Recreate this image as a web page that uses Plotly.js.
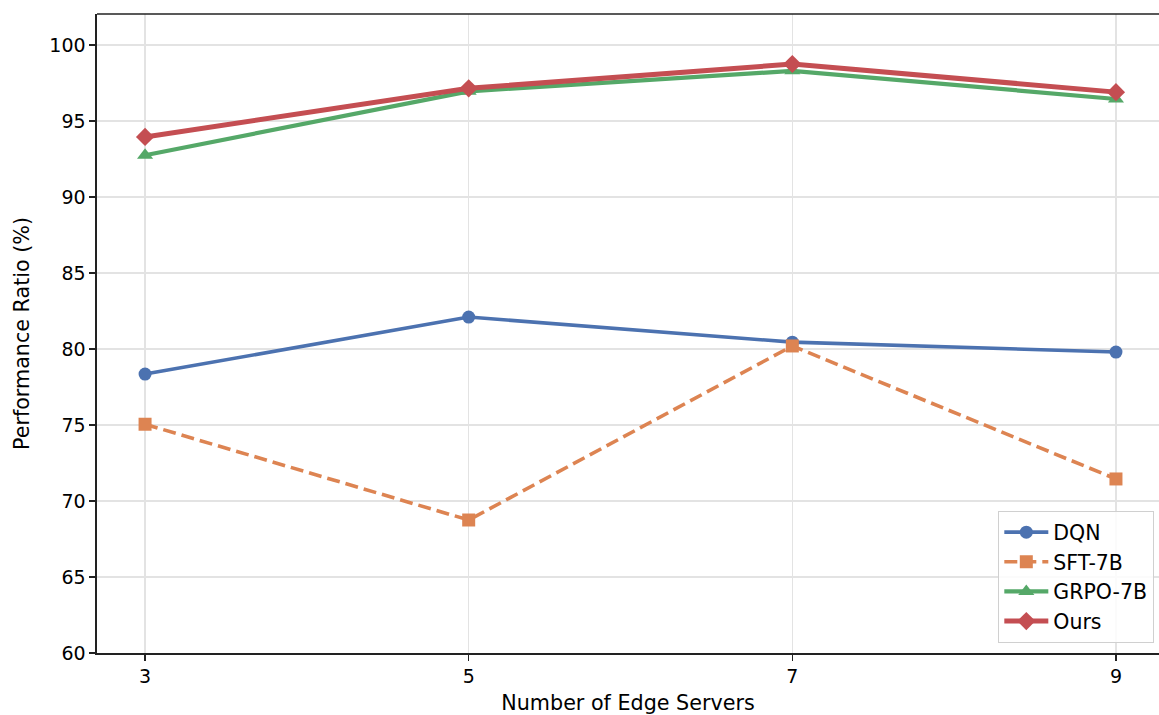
<!DOCTYPE html>
<html><head><meta charset="utf-8">
<script src="https://cdn.plot.ly/plotly-3.0.1.min.js"></script>
<style>html,body{margin:0;padding:0;background:#fff}#chart{width:1159px;height:715px}</style>
</head><body><div id="chart"></div>
<script>
const servers = [3, 5, 7, 9];
const dqn = [78.35, 82.1, 80.45, 79.8];
const sft = [75.05, 68.75, 80.2, 71.45];
const grpo = [92.75, 96.95, 98.3, 96.45];
const ours = [93.95, 97.15, 98.75, 96.9];
const yTicks = [60, 65, 70, 75, 80, 85, 90, 95, 100];
const xTicks = [3, 5, 7, 9];

const font = 'DejaVu Sans, sans-serif';
const traces = [
  {x: servers, y: dqn, name: 'DQN', mode: 'lines+markers',
   line: {color: '#4C72B0', width: 3.6}, marker: {symbol: 'circle', size: 13, color: '#4C72B0'}},
  {x: servers, y: sft, name: 'SFT-7B', mode: 'lines+markers',
   line: {color: '#DD8452', width: 3.6, dash: '13px,6px'}, marker: {symbol: 'square', size: 13, color: '#DD8452'}},
  {x: servers, y: grpo, name: 'GRPO-7B', mode: 'lines+markers',
   line: {color: '#55A868', width: 4.2}, marker: {symbol: 'triangle-up', size: 14, color: '#55A868'}},
  {x: servers, y: ours, name: 'Ours', mode: 'lines+markers',
   line: {color: '#C44E52', width: 5}, marker: {symbol: 'diamond', size: 14, color: '#C44E52'}}
];
const layout = {
  width: 1159, height: 715,
  margin: {l: 97, r: 0, t: 14, b: 62},
  paper_bgcolor: '#fff', plot_bgcolor: '#fff',
  font: {family: font, size: 19, color: '#000'},
  showlegend: true,
  legend: {x: 0.9953, xanchor: 'right', y: 0.0156, yanchor: 'bottom',
    bgcolor: 'rgba(255,255,255,0.85)', bordercolor: '#d0d0d0', borderwidth: 1.3,
    font: {family: font, size: 20.5}, tracegroupgap: 0, itemwidth: 44},
  xaxis: {range: [2.703, 9.266], tickvals: xTicks, ticktext: xTicks.map(String),
    showgrid: true, gridcolor: '#e3e3e3', gridwidth: 1.2, zeroline: false,
    showline: true, linecolor: '#222', linewidth: 1.6,
    ticks: 'outside', ticklen: 6, tickwidth: 1.4, tickcolor: '#222',
    tickfont: {family: font, size: 19},
    title: {text: 'Number of Edge Servers', font: {family: font, size: 20.7}, standoff: 12}},
  yaxis: {range: [60, 102.04], tickvals: yTicks, ticktext: yTicks.map(String),
    showgrid: true, gridcolor: '#e3e3e3', gridwidth: 1.2, zeroline: false,
    showline: true, linecolor: '#222', linewidth: 1.6,
    ticks: 'outside', ticklen: 6, tickwidth: 1.4, tickcolor: '#222',
    tickfont: {family: font, size: 19},
    title: {text: 'Performance Ratio (%)', font: {family: font, size: 20.7}, standoff: 14}},
  shapes: [{type: 'line', xref: 'paper', yref: 'paper', x0: 0, x1: 1, y0: 1, y1: 1,
    line: {color: '#222', width: 1.6}}]
};
Plotly.newPlot('chart', traces, layout, {displayModeBar: false, staticPlot: true});
</script></body></html>
